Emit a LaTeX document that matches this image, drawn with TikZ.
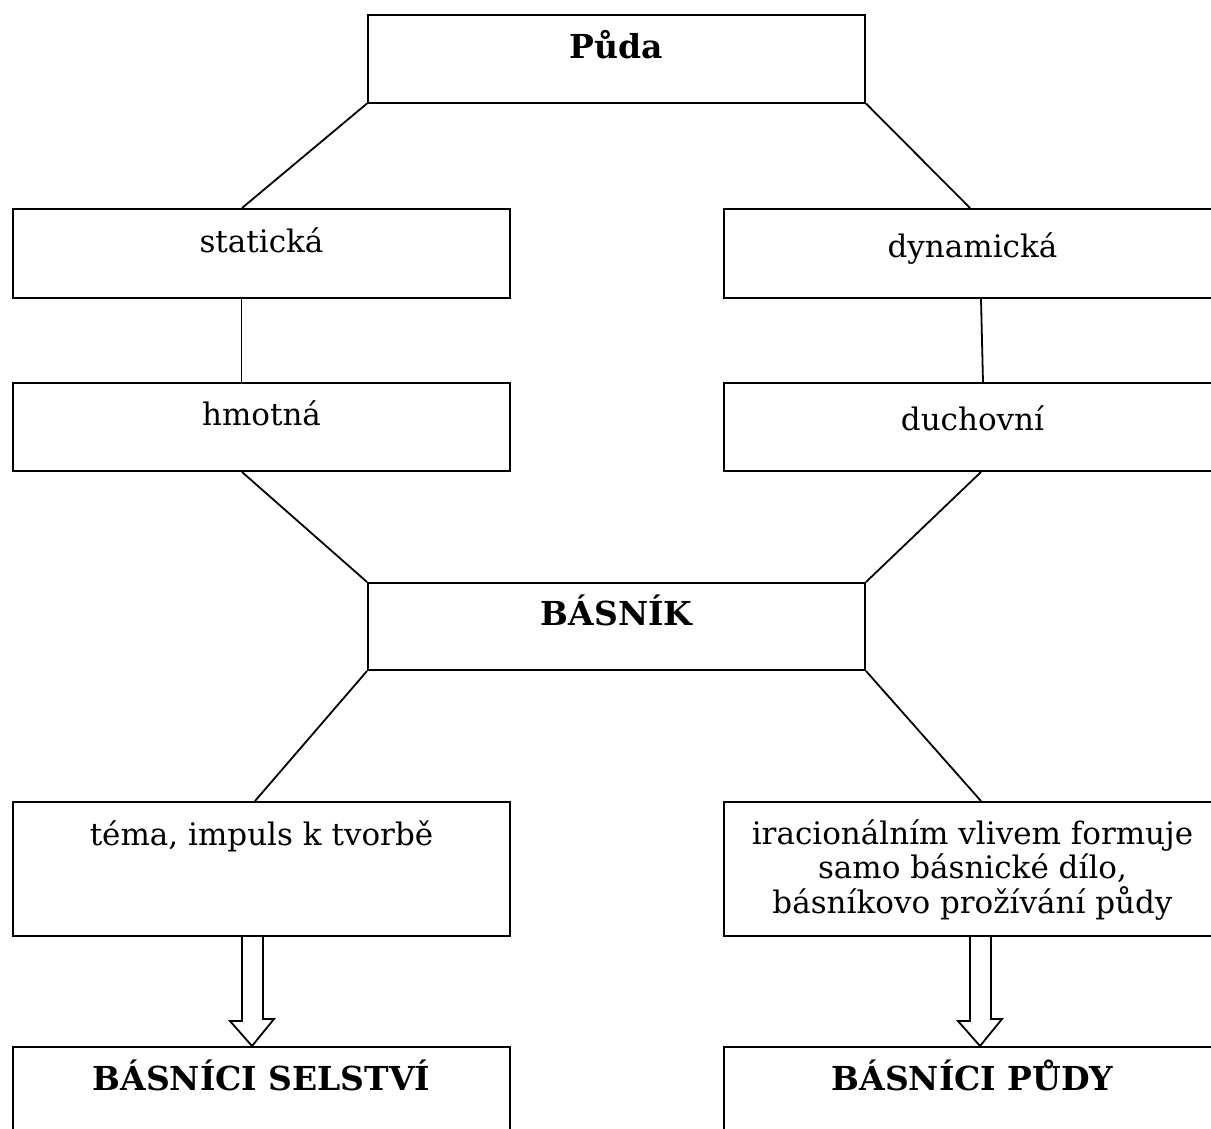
\documentclass[tikz,border=0pt]{standalone}
\usepackage{fontspec}
\setmainfont{DejaVu Serif}
\begin{document}
\begin{tikzpicture}[x=1pt,y=-1pt,
  box/.style={draw,line width=2pt,rectangle,inner sep=0pt,anchor=north west,minimum width=497pt},
  lbl/.style={anchor=base,inner sep=0pt,font=\fontsize{31}{34.5}\selectfont,align=center},
  blbl/.style={lbl,font=\fontsize{33}{36}\selectfont\bfseries},
  conn/.style={line width=1.8pt},
  fatarrow/.style={line width=1.8pt,fill=white,line join=miter}]
\useasboundingbox (0,0) rectangle (1211,1128);
\clip (0,0) rectangle (1211,1128);
% boxes
\node[box,minimum height=87.5pt] (puda) at (367,14) {};
\node[box,minimum height=89pt] (stat) at (12,208) {};
\node[box,minimum height=89pt] (dyn) at (723,208) {};
\node[box,minimum height=88pt] (hmot) at (12,382) {};
\node[box,minimum height=88pt] (duch) at (723,382) {};
\node[box,minimum height=87pt] (basnik) at (367,582) {};
\node[box,minimum height=134pt] (tema) at (12,801) {};
\node[box,minimum height=134pt] (irac) at (723,801) {};
\node[box,minimum height=120pt] (selst) at (12,1046) {};
\node[box,minimum height=120pt] (pudy) at (723,1046) {};
% texts
\node[blbl] (tpuda) at ([yshift=-44pt]puda.north) {Půda};
\node[lbl] (tstat) at ([yshift=-44pt]stat.north) {statická};
\node[lbl] (tdyn) at ([yshift=-49pt]dyn.north) {dynamická};
\node[lbl] (thmot) at ([yshift=-43pt]hmot.north) {hmotná};
\node[lbl] (tduch) at ([yshift=-48pt]duch.north) {duchovní};
\node[blbl] (tbasnik) at ([yshift=-43pt]basnik.north) {BÁSNÍK};
\node[lbl] (ttema) at ([yshift=-44pt]tema.north) {téma, impuls k tvorbě};
\node[lbl,anchor=north] (tirac) at ([yshift=-18pt]irac.north) {iracionálním vlivem formuje\\samo básnické dílo,\\básníkovo prožívání půdy};
\node[blbl] (tselst) at ([yshift=-44pt]selst.north) {BÁSNÍCI SELSTVÍ};
\node[blbl] (tpudy) at ([yshift=-44pt]pudy.north) {BÁSNÍCI PŮDY};
% connectors
\draw[conn] (puda.south west) -- ([xshift=-19.5pt]stat.north);
\draw[conn] (puda.south east) -- ([xshift=-2.5pt]dyn.north);
\draw[conn] ([xshift=-20pt]stat.south) -- ([xshift=-20pt]hmot.north);
\draw[conn] ([xshift=8.5pt]dyn.south) -- ([xshift=10.5pt]duch.north);
\draw[conn] ([xshift=-19.5pt]hmot.south) -- (basnik.north west);
\draw[conn] ([xshift=8.5pt]duch.south) -- (basnik.north east);
\draw[conn] (basnik.south west) -- ([xshift=-6.5pt]tema.north);
\draw[conn] (basnik.south east) -- ([xshift=8.5pt]irac.north);
% block arrows
\draw[fatarrow] ([xshift=-19.5pt]tema.south) -- ++(0,84) -- ++(-12,0) -- ([xshift=-9.5pt]selst.north) -- ++(22,-27) -- ++(-11,0) -- ([xshift=1.5pt]tema.south);
\draw[fatarrow] ([xshift=-2.5pt]irac.south) -- ++(0,84) -- ++(-12,0) -- ([xshift=7.5pt]pudy.north) -- ++(22,-27) -- ++(-11,0) -- ([xshift=18.5pt]irac.south);
\end{tikzpicture}
\end{document}
